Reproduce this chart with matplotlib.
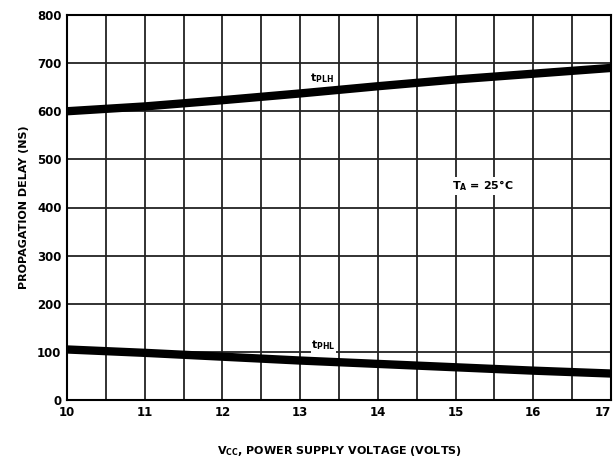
import matplotlib
matplotlib.use("Agg")
import matplotlib.pyplot as plt
import numpy as np

vcc = [10, 11, 12, 13, 14, 15, 16, 17]
t_plh = [600, 610, 623, 637, 652, 666, 678, 690]
t_phl = [105, 98, 90, 82, 75, 68, 61, 55]
x_ticks = [10, 11, 12, 13, 14, 15, 16, 17]
y_ticks = [0, 100, 200, 300, 400, 500, 600, 700, 800]

plt.rcParams['font.family'] = ['DejaVu Sans']
fig = plt.figure(figsize=(6.16, 4.66), dpi=100)
ax = fig.add_axes([67/616, 1 - 400/466, (611 - 67)/616, (400 - 15)/466])

ax.set_xlim(10, 17)
ax.set_ylim(0, 800)

for xv in np.arange(10, 17.01, 0.5):
    ax.axvline(xv, color='#222222', lw=1.3, zorder=1)
for yv in y_ticks:
    ax.axhline(yv, color='#222222', lw=1.3, zorder=1)

ax.plot(vcc, t_plh, color='black', lw=6, solid_capstyle='butt', zorder=3)
ax.plot(vcc, t_phl, color='black', lw=6, solid_capstyle='butt', zorder=3)

ax.set_xticks(x_ticks)
ax.set_yticks(y_ticks)
ax.tick_params(length=0, labelsize=8.5, pad=4)
for lab in ax.get_xticklabels() + ax.get_yticklabels():
    lab.set_fontweight('bold')
xt = ax.get_xticklabels()
xt[-1].set_horizontalalignment('right')
for s in ax.spines.values():
    s.set_linewidth(1.5)

ax.text(13.28, 668, r'$\mathbf{t_{PLH}}$', fontsize=8, ha='center', va='center', zorder=4,
        bbox=dict(facecolor='white', edgecolor='none', pad=0.5))
ax.text(13.3, 114, r'$\mathbf{t_{PHL}}$', fontsize=8, ha='center', va='center', zorder=4,
        bbox=dict(facecolor='white', edgecolor='none', pad=0.5))
ax.text(15.35, 445, r'$\mathbf{T_A}$ = 25°C', fontsize=8, ha='center', va='center',
        fontweight='bold', zorder=4, bbox=dict(facecolor='white', edgecolor='none', pad=1))

ax.set_xlabel(r'V$_{\mathbf{CC}}$, POWER SUPPLY VOLTAGE (VOLTS)', fontsize=8, fontweight='bold', labelpad=18)
ax.set_ylabel('PROPAGATION DELAY (NS)', fontsize=8, fontweight='bold', labelpad=6)

fig.savefig('out.png', dpi=100)
